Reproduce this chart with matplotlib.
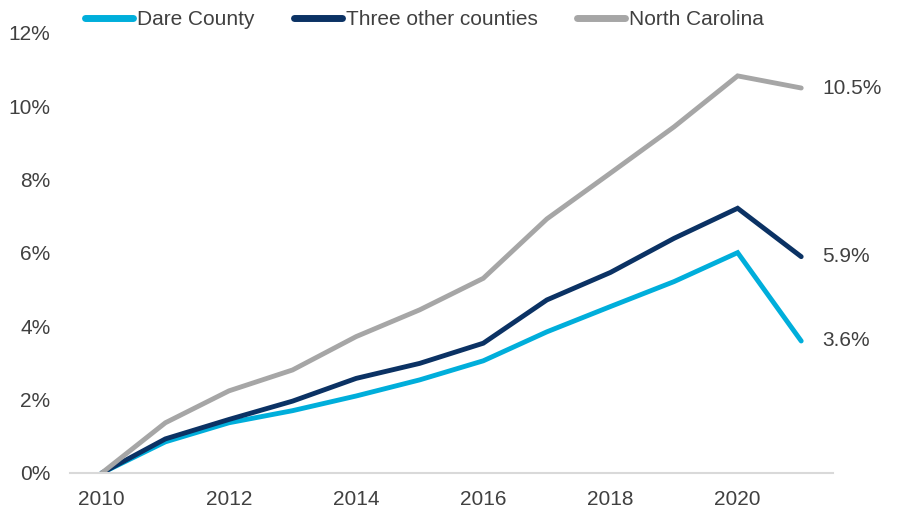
import matplotlib.pyplot as plt
from matplotlib.ticker import FuncFormatter

plt.rcParams['font.family'] = ['Liberation Sans', 'DejaVu Sans']

years = list(range(2010, 2022))
dare = [0, 0.85, 1.37, 1.70, 2.10, 2.54, 3.06, 3.85, 4.54, 5.22, 6.01, 3.6]
three = [0, 0.93, 1.46, 1.96, 2.58, 2.99, 3.54, 4.72, 5.47, 6.40, 7.22, 5.9]
nc = [0, 1.37, 2.24, 2.81, 3.72, 4.45, 5.31, 6.93, 8.18, 9.44, 10.83, 10.5]
end_labels = ['3.6%', '5.9%', '10.5%']

colors = ['#00AEDB', '#0B3264', '#A6A6A6']
names = ['Dare County', 'Three other counties', 'North Carolina']
text_color = '#404040'

fig = plt.figure(figsize=(9.02, 5.12), dpi=100)
ax = fig.add_axes([70 / 902, 39 / 512, 763 / 902, 440 / 512])

for vals, c, n, lab in zip([dare, three, nc], colors, names, end_labels):
    ax.plot(years, vals, color=c, lw=3.5, label=n, solid_capstyle='round', solid_joinstyle='miter')
    ax.annotate(lab, (years[-1], vals[-1]), xytext=(15, 0), textcoords='offset points',
                va='center', ha='left', fontsize=15, color=text_color)

ax.set_xlim(2009.5, 2021.5)
ax.set_ylim(0, 12)
ax.set_xticks(range(2010, 2022, 2))
ax.set_yticks(range(0, 13, 2))
ax.yaxis.set_major_formatter(FuncFormatter(lambda v, p: f'{v:.0f}%'))
ax.tick_params(length=0, labelsize=15, colors=text_color)
ax.tick_params(axis='x', pad=12)
ax.tick_params(axis='y', pad=14)
for s in ['top', 'right', 'left']:
    ax.spines[s].set_visible(False)
ax.spines['bottom'].set_color('#D9D9D9')
ax.spines['bottom'].set_linewidth(1.5)

leg = fig.legend(loc='center left', bbox_to_anchor=(0.073, 0.962), ncol=3, frameon=False,
                 fontsize=15, handlelength=2.3, handletextpad=0.2, columnspacing=1.9)
for t in leg.get_texts():
    t.set_color(text_color)
for h in leg.get_lines():
    h.set_linewidth(5)

fig.savefig('out.png', dpi=100)
